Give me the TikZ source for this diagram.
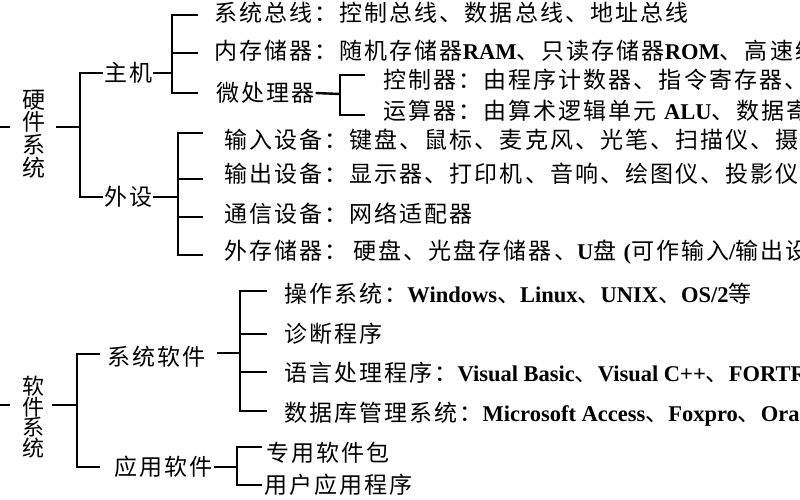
\documentclass[tikz,border=0pt]{standalone}
\usepackage{fontspec}
\setmainfont{Noto Sans CJK SC}
\newfontfamily\zhfont{Noto Sans CJK SC}[LetterSpace=9]
\newfontfamily\latfont{Liberation Serif}
\newcommand{\lw}[1]{{\latfont\bfseries\fontsize{22.5}{24}\selectfont #1}}
\begin{document}
\begin{tikzpicture}[x=1pt,y=-1pt,line width=2.4pt,
  txt/.style={anchor=west,inner sep=0pt,font=\zhfont\fontsize{23}{25}\selectfont,text height=20pt,text depth=3pt},
  vtop/.style={inner ysep=0pt,inner xsep=9pt,align=center,font=\zhfont\fontsize{23}{22.7}\selectfont},
  vbot/.style={inner ysep=0pt,inner xsep=7pt,align=center,font=\zhfont\fontsize{22}{20.5}\selectfont}]
\useasboundingbox (0,0) rectangle (800,500);
\clip (0,0) rectangle (800,500);
\fill[white] (0,0) rectangle (800,500);

% ===== hardware =====
\coordinate (hin) at (0,127);
\coordinate (hine) at (10,127);
\draw (hin) -- (hine);
\node[vtop] (hw) at (34,134) {硬\\件\\系\\统};
\coordinate (J1) at (80,127);
\draw (hw.east |- J1) -- (J1);
\node[txt] (zj) at (103,73) {主机};
\node[txt] (ws) at (103,197) {外设};
\draw (zj.west) -| (J1) |- (ws.west);

% host branch
\coordinate (J2) at (172,73);
\coordinate (b11) at (198,15);
\coordinate (b12) at (198,53);
\coordinate (b13) at (198,93);
\draw (zj.east) -- (J2);
\draw (b11) -| (J2) |- (b13);
\draw (J2 |- b12) -- (b12);
\node[txt] (t11) at (213,13) {系统总线：控制总线、数据总线、地址总线};
\node[txt] (t12) at (213,51) {内存储器：随机存储器\lw{RAM}、只读存储器\lw{ROM}、高速缓};
\node[txt] (wcl) at (215,93) {微处理器};

% microprocessor branch
\coordinate (J3) at (340,94);
\coordinate (b21) at (365,75);
\coordinate (b22) at (365,115);
\draw (wcl.east) -- (J3);
\draw (b21) -| (J3) |- (b22);
\node[txt] (t21) at (382,80) {控制器：由程序计数器、指令寄存器、};
\node[txt] (t22) at (382,111) {运算器：由算术逻辑单元 \lw{ALU}、数据寄};

% peripherals branch
\coordinate (J4) at (178,197);
\coordinate (b31) at (203,133);
\coordinate (b32) at (203,179);
\coordinate (b33) at (203,217);
\coordinate (b34) at (203,255);
\draw (ws.east) -- (J4);
\draw (b31) -| (J4) |- (b34);
\draw (J4 |- b32) -- (b32);
\draw (J4 |- b33) -- (b33);
\node[txt] (t31) at (223,140) {输入设备：键盘、鼠标、麦克风、光笔、扫描仪、摄像};
\node[txt] (t32) at (223,174) {输出设备：显示器、打印机、音响、绘图仪、投影仪};
\node[txt] (t33) at (223,214) {通信设备：网络适配器};
\node[txt] (t34) at (223,251) {外存储器：\hspace{6pt}硬盘、光盘存储器、\lw{U}盘 \lw{(}可作输入\lw{/}输出设备};

% ===== software =====
\coordinate (sin) at (0,405);
\coordinate (sine) at (10,405);
\draw (sin) -- (sine);
\node[vbot] (sw) at (33,417) {软\\件\\系\\统};
\coordinate (J5) at (77,405);
\draw (sw.east |- J5) -- (J5);
\coordinate (b40) at (100,354);
\coordinate (b41) at (100,467);
\draw (b40) -| (J5) |- (b41);
\node[txt] (xt) at (106,357) {系统软件};
\node[txt] (yy) at (113,467) {应用软件};

% system software branch
\coordinate (s6) at (217,353);
\coordinate (J6) at (240,353);
\coordinate (b51) at (267,291);
\coordinate (b52) at (267,334);
\coordinate (b53) at (267,372);
\coordinate (b54) at (267,411);
\draw (s6) -- (J6);
\draw (b51) -| (J6) |- (b54);
\draw (J6 |- b52) -- (b52);
\draw (J6 |- b53) -- (b53);
\node[txt] (t51) at (283,294) {操作系统：\lw{Windows}、\lw{Linux}、\lw{UNIX}、\lw{OS/2}等};
\node[txt] (t52) at (283,334) {诊断程序};
\node[txt] (t53) at (283,373) {语言处理程序：\lw{Visual Basic}、\lw{Visual C++}、\lw{FORTRAN}};
\node[txt] (t54) at (283,413) {数据库管理系统：\lw{Microsoft Access}、\lw{Foxpro}、\lw{Oracle}};

% application software branch
\coordinate (J7) at (237,467);
\coordinate (b61) at (262,447);
\coordinate (b62) at (262,485);
\draw (yy.east) -- (J7);
\draw (b61) -| (J7) |- (b62);
\node[txt] (t61) at (265,453) {专用软件包};
\node[txt] (t62) at (263,485) {用户应用程序};
\end{tikzpicture}
\end{document}
